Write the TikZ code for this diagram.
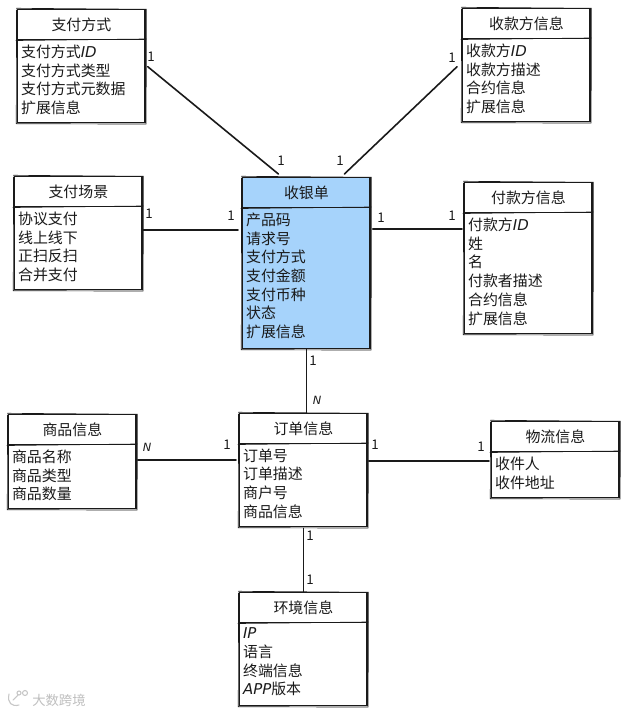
\documentclass[tikz,border=0pt]{standalone}
\usepackage{fontspec}
\usetikzlibrary{calc}
\setmainfont{Noto Sans CJK SC}
\newfontfamily\latinhand{DejaVu Sans}
\newcommand{\hand}[1]{{\latinhand\itshape #1}}
\definecolor{cashblue}{HTML}{A6D3FB}
\definecolor{inkc}{HTML}{1A1A1A}
\tikzset{
  x=0.75pt,y=-0.75pt,
  erbox/.style={draw=inkc,line width=1.1pt,minimum width=95.5pt,inner sep=0pt,anchor=north west},
  sketchline/.style={draw=inkc,line width=0.5pt,line cap=round},
  titletext/.style={font=\fontsize{11.2}{13}\selectfont,text=inkc,anchor=center},
  rowtext/.style={font=\fontsize{11.2}{14.05}\selectfont,text=inkc,anchor=north west,align=left,inner sep=0pt},
  link/.style={draw=inkc,line width=1.2pt,line cap=round},
  card/.style={font=\fontsize{10}{11}\selectfont,text=inkc,inner sep=0pt},
  cardn/.style={font=\fontsize{8.5}{10}\selectfont\latinhand\itshape,text=inkc,inner sep=0pt},
  wmark/.style={draw=black!22,line width=0.8pt,line cap=round}
}
% \erbox{name}{x}{y}{h}{fill}{title}{rows}
\newcommand{\erbox}[7]{%
  \node[erbox,fill=#5,minimum height=#4*0.75pt] (#1) at (#2,#3) {};
  \draw[inkc,line width=1.1pt] ($(#1.north west)+(0,30.5)$) -- ($(#1.north east)+(0,30.5)$);
  \draw[sketchline] ($(#1.north west)+(-0.5,-0.7)$) -- ($(#1.north east)+(0.5,0.3)$) -- ($(#1.south east)+(0.3,0.6)$) -- ($(#1.south west)+(-0.7,0.2)$) -- ($(#1.north west)+(-0.5,1)$);
  \draw[sketchline] ($(#1.north west)+(-1,31.5)$) -- ($(#1.north east)+(0.5,30)$);
  \node[titletext] (#1t) at ($(#1.north)+(0,15.5)$) {#6};
  \node[rowtext] (#1r) at ($(#1.north west)+(3.8,35.5)$) {#7};
}
\begin{document}
\begin{tikzpicture}
\useasboundingbox[fill=white] (0,0) rectangle (627,713);
\erbox{zfs}{17}{9}{113}{white}{支付方式}{支付方式\hand{ID}\\支付方式类型\\支付方式元数据\\扩展信息}
\erbox{zfc}{14}{176}{113}{white}{支付场景}{协议支付\\线上线下\\正扫反扫\\合并支付}
\erbox{cash}{242}{177}{171}{cashblue}{收银单}{产品码\\请求号\\支付方式\\支付金额\\支付币种\\状态\\扩展信息}
\erbox{payee}{462}{8}{113}{white}{收款方信息}{收款方\hand{ID}\\收款方描述\\合约信息\\扩展信息}
\erbox{payer}{464}{182}{151}{white}{付款方信息}{付款方\hand{ID}\\姓\\名\\付款者描述\\合约信息\\扩展信息}
\erbox{goods}{8}{414}{94}{white}{商品信息}{商品名称\\商品类型\\商品数量}
\erbox{order}{239}{413}{113}{white}{订单信息}{订单号\\订单描述\\商户号\\商品信息}
\erbox{ship}{491}{421}{76}{white}{物流信息}{收件人\\收件地址}
\erbox{env}{239}{592}{113}{white}{环境信息}{\hand{IP}\\语言\\终端信息\\\hand{APP}版本}

\draw[link] ($(zfs.east)+(2,0.5)$) -- ($(cash.north)+(-28,-3)$);
\draw[link] ($(zfc.east)+(0,-3.5)$) -- ($(cash.west)+(-4,-33.5)$);
\draw[link] ($(payee.west)+(-5,1.5)$) -- ($(cash.north)+(38,-3)$);
\draw[link] ($(cash.east)+(2,-34.5)$) -- ($(payer.west)+(-2,-29.5)$);
\draw[link] (cash.south) -- ($(order.north)+(3,0)$);
\draw[link] ($(goods.east)+(1,-2)$) -- ($(order.west)+(-3,-10.5)$);
\draw[link] ($(order.east)+(1,-9.5)$) -- ($(ship.west)+(-2,1)$);
\draw[link] ($(order.south)+(0,1)$) -- (env.north);

\node[card] (c1) at (151,57) {1};
\node[card] (c2) at (281,161) {1};
\node[card] (c3) at (149,214) {1};
\node[card] (c4) at (231,216) {1};
\node[card] (c5) at (340,161) {1};
\node[card] (c6) at (452,58) {1};
\node[card] (c7) at (381,218) {1};
\node[card] (c8) at (452,216) {1};
\node[card] (c9) at (313,361) {1};
\node[cardn] (c10) at (317,400) {N};
\node[cardn] (c11) at (147,447) {N};
\node[card] (c12) at (227,445) {1};
\node[card] (c13) at (375,445) {1};
\node[card] (c14) at (481,447) {1};
\node[card] (c15) at (310,536) {1};
\node[card] (c16) at (310,580) {1};
\draw[wmark] (9,694) .. controls (7,703) and (12,707) .. (19,705);
\draw[wmark] (13,700) -- (18,695);
\draw[wmark] (19,693) circle (2);
\draw[wmark] (25,693) circle (2.5);
\node[font=\fontsize{10}{12}\selectfont,text=black!25,inner sep=0pt,anchor=west] (wm) at (32,700) {大数跨境};
\end{tikzpicture}
\end{document}
